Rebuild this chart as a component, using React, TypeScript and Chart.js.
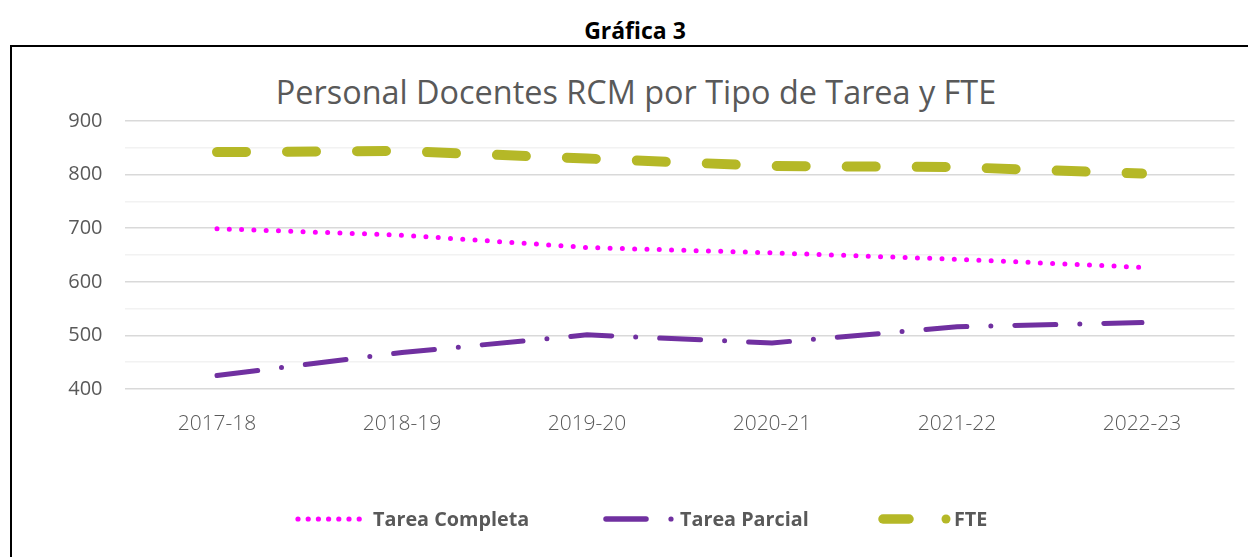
import React, { useEffect, useRef } from "react";
import { Chart, registerables } from "chart.js";

Chart.register(...registerables);

const heading = "Gráfica 3";
const chartTitle = "Personal Docentes RCM por Tipo de Tarea y FTE";
const categories = ["2017-18", "2018-19", "2019-20", "2020-21", "2021-22", "2022-23"];
const seriesNames = ["Tarea Completa", "Tarea Parcial", "FTE"];
const tareaCompleta = [699, 687, 664, 654, 642, 627];
const tareaParcial = [425, 468, 501, 486, 516, 524];
const fte = [842, 844, 830, 816, 814, 802];
const yMin = 400;
const yMax = 900;
const yStep = 50;
const yLabelStep = 100;

const MAGENTA = "#FF00FF";
const PURPLE = "#7030A0";
const OLIVE = "#B5B827";
const TEXT = "#595959";

export default function App() {
  const canvasRef = useRef<HTMLCanvasElement | null>(null);

  useEffect(() => {
    if (!canvasRef.current) return;
    const chart = new Chart(canvasRef.current, {
      type: "line",
      data: {
        labels: categories,
        datasets: [
          {
            label: seriesNames[0],
            data: tareaCompleta,
            borderColor: MAGENTA,
            borderWidth: 5,
            borderDash: [0, 12.3],
            borderCapStyle: "round",
            pointRadius: 0,
            tension: 0,
            fill: false,
          },
          {
            label: seriesNames[1],
            data: tareaParcial,
            borderColor: PURPLE,
            borderWidth: 5,
            borderDash: [41, 24, 0, 24],
            borderCapStyle: "round",
            pointRadius: 0,
            tension: 0,
            fill: false,
          },
          {
            label: seriesNames[2],
            data: fte,
            borderColor: OLIVE,
            borderWidth: 10,
            borderDash: [29, 41],
            borderCapStyle: "round",
            pointRadius: 0,
            tension: 0,
            fill: false,
          },
        ],
      },
      options: {
        animation: false,
        responsive: false,
        maintainAspectRatio: false,
        layout: { padding: { left: 0, right: 13.5, top: 121, bottom: 0 } },
        plugins: {
          legend: { display: false },
          title: { display: false },
          tooltip: { enabled: false },
        },
        scales: {
          x: {
            offset: true,
            grid: { display: false },
            border: { display: false },
            ticks: {
              color: TEXT,
              font: { family: "'Open Sans'", size: 21, weight: "300" },
              padding: 14,
              maxRotation: 0,
            },
            afterFit: (s: any) => {
              s.height = 168;
            },
          },
          y: {
            min: yMin,
            max: yMax,
            border: { display: false },
            grid: {
              drawTicks: false,
              lineWidth: 1.5,
              color: (ctx: any) =>
                ctx.tick && ctx.tick.value % yLabelStep === 0 ? "#D9D9D9" : "#F2F2F2",
            },
            ticks: {
              stepSize: yStep,
              autoSkip: false,
              color: TEXT,
              padding: 22,
              font: { family: "'Open Sans'", size: 20 },
              callback: (v: any) => (Number(v) % yLabelStep === 0 ? String(v) : ""),
            },
            afterFit: (s: any) => {
              s.width = 124.5;
            },
          },
        },
      },
    });
    return () => chart.destroy();
  }, []);

  const legendText: React.CSSProperties = {
    position: "absolute",
    top: 505,
    fontFamily: "'Open Sans', sans-serif",
    fontWeight: 700,
    fontSize: 19.8,
    lineHeight: "28px",
    color: TEXT,
    whiteSpace: "nowrap",
  };

  const dots = [298, 308.2, 318.4, 328.6, 338.8, 349, 359.2];

  return (
    <div
      style={{
        position: "fixed",
        left: 0,
        top: 0,
        width: 1248,
        height: 557,
        overflow: "hidden",
        background: "#fff",
      }}
    >
      <div
        style={{
          position: "absolute",
          left: 0,
          top: 45,
          width: 1280,
          height: 560,
          marginLeft: 10,
          border: "2px solid #000",
          boxSizing: "border-box",
        }}
      />
      <div
        style={{
          position: "absolute",
          left: 0,
          top: 13,
          width: 1270,
          textAlign: "center",
          fontFamily: "'Open Sans', sans-serif",
          fontWeight: 700,
          fontSize: 23,
          lineHeight: "34px",
          color: "#000",
        }}
      >
        {heading}
      </div>
      <div
        style={{
          position: "absolute",
          left: 0,
          top: 68,
          width: 1272,
          textAlign: "center",
          fontFamily: "'Open Sans', sans-serif",
          fontSize: 32.4,
          lineHeight: "46px",
          color: TEXT,
        }}
      >
        {chartTitle}
      </div>
      <canvas
        ref={canvasRef}
        width={1248}
        height={557}
        style={{ position: "absolute", left: 0, top: 0, width: 1248, height: 557 }}
      />
      <svg
        width={1248}
        height={557}
        style={{ position: "absolute", left: 0, top: 0, pointerEvents: "none" }}
      >
        {dots.map((x, i) => (
          <circle key={i} cx={x} cy={519} r={2.6} fill={MAGENTA} />
        ))}
        <line x1={606} y1={519} x2={646} y2={519} stroke={PURPLE} strokeWidth={5.5} strokeLinecap="round" />
        <circle cx={671} cy={519} r={2.6} fill={PURPLE} />
        <line x1={883} y1={519} x2={909} y2={519} stroke={OLIVE} strokeWidth={9.5} strokeLinecap="round" />
        <circle cx={946} cy={519} r={4.5} fill={OLIVE} />
      </svg>
      <span style={{ ...legendText, left: 373 }}>{seriesNames[0]}</span>
      <span style={{ ...legendText, left: 680 }}>{seriesNames[1]}</span>
      <span style={{ ...legendText, left: 954 }}>{seriesNames[2]}</span>
    </div>
  );
}
